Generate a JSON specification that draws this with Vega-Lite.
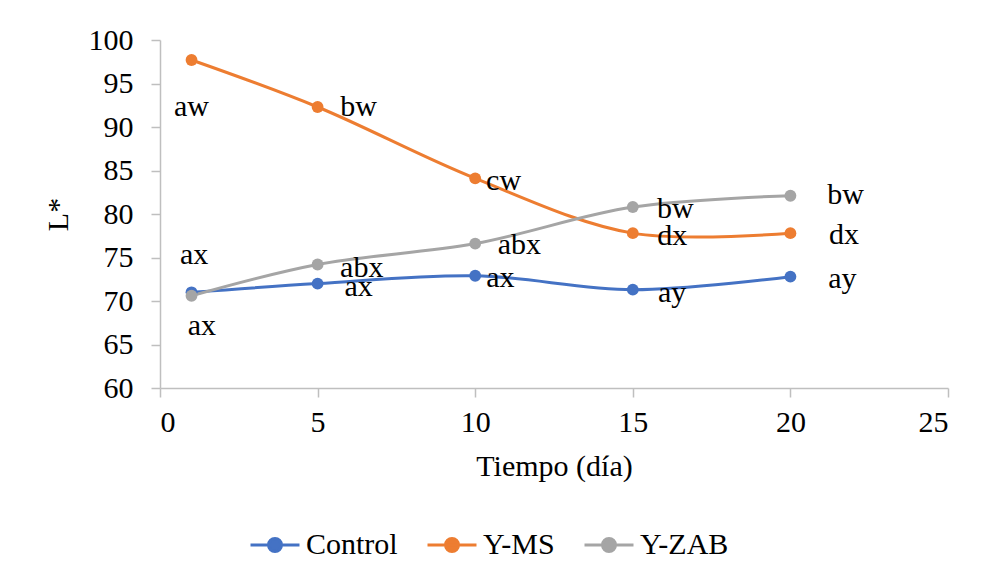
{
  "$schema": "https://vega.github.io/schema/vega-lite/v6.json",
  "width": 788,
  "height": 348,
  "autosize": {"type": "none"},
  "padding": {"left": 160, "top": 40, "right": 36, "bottom": 194},
  "background": "white",
  "config": {
    "view": {"stroke": null},
    "font": "Liberation Serif",
    "text": {"font": "Liberation Serif"},
    "axis": {
      "domainColor": "#bfbfbf",
      "domainWidth": 1.5,
      "tickColor": "#bfbfbf",
      "tickWidth": 1.5,
      "tickSize": 9,
      "grid": false,
      "labelFont": "Liberation Serif",
      "labelFontSize": 30,
      "labelColor": "black",
      "titleFont": "Liberation Serif",
      "titleFontSize": 30,
      "titleFontWeight": "normal",
      "titleColor": "black"
    },
    "legend": {
      "labelFont": "Liberation Serif",
      "labelFontSize": 30,
      "labelColor": "black"
    }
  },
  "datasets": {
    "series": [
      {"dia": 1, "L": 71.0, "serie": "Control"},
      {"dia": 5, "L": 72.0, "serie": "Control"},
      {"dia": 10, "L": 72.9, "serie": "Control"},
      {"dia": 15, "L": 71.3, "serie": "Control"},
      {"dia": 20, "L": 72.8, "serie": "Control"},
      {"dia": 1, "L": 97.7, "serie": "Y-MS"},
      {"dia": 5, "L": 92.3, "serie": "Y-MS"},
      {"dia": 10, "L": 84.1, "serie": "Y-MS"},
      {"dia": 15, "L": 77.8, "serie": "Y-MS"},
      {"dia": 20, "L": 77.8, "serie": "Y-MS"},
      {"dia": 1, "L": 70.6, "serie": "Y-ZAB"},
      {"dia": 5, "L": 74.2, "serie": "Y-ZAB"},
      {"dia": 10, "L": 76.6, "serie": "Y-ZAB"},
      {"dia": 15, "L": 80.8, "serie": "Y-ZAB"},
      {"dia": 20, "L": 82.1, "serie": "Y-ZAB"}
    ],
    "etiquetas": [
      {"lx": 1.0, "ly": 92.3, "t": "aw"},
      {"lx": 6.3, "ly": 92.3, "t": "bw"},
      {"lx": 10.9, "ly": 83.8, "t": "cw"},
      {"lx": 16.35, "ly": 80.6, "t": "bw"},
      {"lx": 21.75, "ly": 82.2, "t": "bw"},
      {"lx": 16.25, "ly": 77.5, "t": "dx"},
      {"lx": 21.7, "ly": 77.6, "t": "dx"},
      {"lx": 11.4, "ly": 76.4, "t": "abx"},
      {"lx": 10.8, "ly": 72.6, "t": "ax"},
      {"lx": 16.25, "ly": 70.9, "t": "ay"},
      {"lx": 21.65, "ly": 72.5, "t": "ay"},
      {"lx": 6.4, "ly": 73.8, "t": "abx"},
      {"lx": 6.3, "ly": 71.6, "t": "ax"},
      {"lx": 1.08, "ly": 75.3, "t": "ax"},
      {"lx": 1.33, "ly": 67.1, "t": "ax"}
    ]
  },
  "layer": [
    {
      "data": {"name": "series"},
      "mark": {"type": "line", "interpolate": "catmull-rom", "strokeWidth": 3},
      "encoding": {
        "x": {"field": "dia", "type": "quantitative", "scale": {"domain": [0, 25], "nice": false}, "axis": {"values": [0, 5, 10, 15, 20, 25], "title": "Tiempo (día)", "labelPadding": 10, "titlePadding": 14}},
        "y": {"field": "L", "type": "quantitative", "scale": {"domain": [60, 100], "nice": false}, "axis": {"values": [60, 65, 70, 75, 80, 85, 90, 95, 100], "title": "L*", "labelPadding": 18, "titlePadding": 15}},
        "color": {
          "field": "serie",
          "type": "nominal",
          "scale": {"domain": ["Control", "Y-MS", "Y-ZAB"], "range": ["#4472C4", "#ED7D31", "#A5A5A5"]},
          "legend": {
            "title": null,
            "orient": "none",
            "direction": "horizontal",
            "legendX": 89,
            "legendY": 479,
            "symbolType": "M-1,0L1,0M-0.265,0a0.265,0.265 0 1,0 0.53,0a0.265,0.265 0 1,0 -0.53,0",
            "symbolSize": 2400,
            "symbolStrokeWidth": 3,
            "columnPadding": 23,
            "labelOffset": 5,
            "labelFontSize": 30,
            "encode": {"symbols": {"update": {"fill": {"scale": "color", "field": "value"}}}}
          }
        },
        "order": {"field": "dia", "type": "quantitative"}
      }
    },
    {
      "data": {"name": "series"},
      "mark": {"type": "circle", "size": 140, "opacity": 1},
      "encoding": {
        "x": {"field": "dia", "type": "quantitative"},
        "y": {"field": "L", "type": "quantitative"},
        "color": {"field": "serie", "type": "nominal"}
      }
    },
    {
      "data": {"name": "etiquetas"},
      "mark": {"type": "text", "font": "Liberation Serif", "fontSize": 30, "color": "black", "baseline": "middle", "align": "center"},
      "encoding": {
        "x": {"field": "lx", "type": "quantitative"},
        "y": {"field": "ly", "type": "quantitative"},
        "text": {"field": "t"}
      }
    }
  ]
}
